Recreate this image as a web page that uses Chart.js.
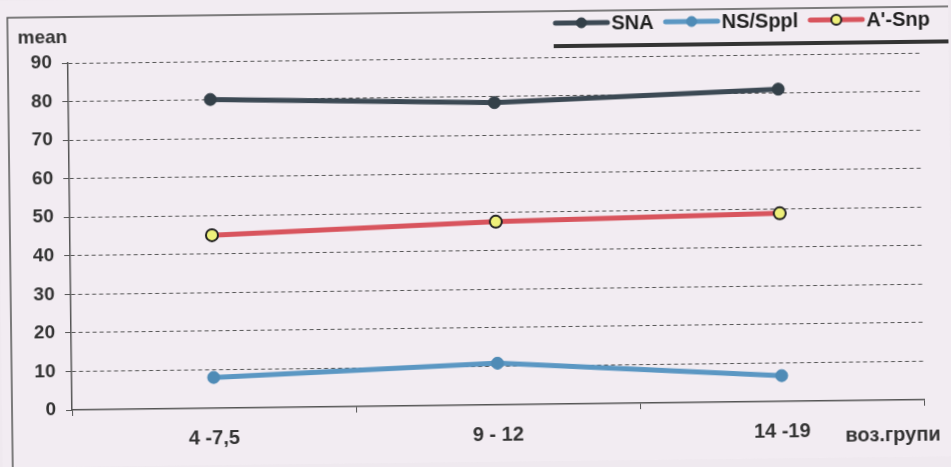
<!DOCTYPE html>
<html>
<head>
<meta charset="utf-8">
<script src="https://cdn.jsdelivr.net/npm/chart.js@4.4.0/dist/chart.umd.min.js"></script>
<style>
  html, body { margin: 0; padding: 0; background: #efe9ef; overflow: hidden; }
  #wrap { width: 951px; height: 467px; }
  /* the scanned original sits slightly skewed on the page */
  canvas { transform: rotate(-0.69deg); transform-origin: 70px 240px; }
</style>
</head>
<body>
<div id="wrap"><canvas id="chart" width="951" height="467"></canvas></div>
<script>
const groups = ["4 -7,5", "9 - 12", "14 -19"];
const sna = [80.1, 78.4, 81];
const nsSppl = [8, 10.8, 6.7];
const aSnp = [44.9, 47.5, 48.8];
const yTicks = [0, 10, 20, 30, 40, 50, 60, 70, 80, 90];

const dark = "#3c4954";
const blue = "#5b97c3";
const red = "#d8545d";
const font = "'Liberation Sans', Arial, sans-serif";

// frame, "mean", axis name and the line-style legend
const decor = {
  id: "decor",
  beforeDraw(chart) {
    const c = chart.ctx;
    c.save();
    c.fillStyle = "#f2ecf2";
    c.fillRect(0, 0, chart.width, chart.height);
    c.strokeStyle = "#555";
    c.lineWidth = 1.5;
    c.strokeRect(10, 17, 1000, 500);
    c.restore();
  },
  afterDraw(chart) {
    const c = chart.ctx;
    c.save();
    c.fillStyle = "#333";
    c.textBaseline = "middle";
    c.font = "bold 19px " + font;
    c.fillText("mean", 20, 38);
    c.font = "bold 20px " + font;
    c.fillText("воз.групи", 843, 445);

    // legend
    let x = 558;
    const y = 29;
    c.font = "bold 20px " + font;
    chart.data.datasets.forEach(ds => {
      c.strokeStyle = ds.borderColor;
      c.lineWidth = 5;
      c.lineCap = "round";
      c.beginPath();
      c.moveTo(x, y);
      c.lineTo(x + 52, y);
      c.stroke();
      c.beginPath();
      c.arc(x + 26, y, 5, 0, Math.PI * 2);
      c.fillStyle = ds.pointBackgroundColor;
      c.fill();
      c.lineWidth = ds.pointBorderWidth;
      c.strokeStyle = ds.pointBorderColor;
      c.stroke();
      c.fillStyle = "#222";
      c.fillText(ds.label, x + 56, y + 1);
      x += 56 + c.measureText(ds.label).width + 12;
    });
    c.fillStyle = "#333";
    c.fillRect(556, 50, 400, 4);
    c.restore();
  }
};

new Chart(document.getElementById("chart"), {
  type: "line",
  data: {
    labels: groups,
    datasets: [
      {
        label: "SNA", data: sna, borderColor: dark, borderWidth: 5,
        pointRadius: 6, pointBackgroundColor: "#344049", pointBorderColor: "#344049", pointBorderWidth: 1
      },
      {
        label: "NS/Sppl", data: nsSppl, borderColor: blue, borderWidth: 5,
        pointRadius: 6, pointBackgroundColor: "#4f8bb6", pointBorderColor: "#4f8bb6", pointBorderWidth: 1
      },
      {
        label: "A'-Snp", data: aSnp, borderColor: red, borderWidth: 5,
        pointRadius: 6, pointBackgroundColor: "#eef07a", pointBorderColor: "#222", pointBorderWidth: 2
      }
    ]
  },
  options: {
    responsive: false,
    animation: false,
    devicePixelRatio: 1,
    layout: { padding: { top: 63, right: 29, left: 0, bottom: 0 } },
    plugins: { legend: { display: false }, tooltip: { enabled: false } },
    elements: { line: { tension: 0 } },
    scales: {
      x: {
        offset: true,
        grid: { offset: true, drawOnChartArea: false, drawTicks: true, tickLength: 6, color: "#555" },
        border: { display: true, color: "#555", width: 1.5 },
        ticks: { color: "#333", padding: 12, font: { size: 20, weight: "bold", family: font } },
        afterFit(axis) { axis.height = 57; }
      },
      y: {
        min: 0, max: 90,
        afterBuildTicks(axis) { axis.ticks = yTicks.map(v => ({ value: v })); },
        grid: {
          color: ctx => ctx.tick && ctx.tick.value === 0 ? "rgba(0,0,0,0)" : "#555",
          lineWidth: 1, tickLength: 6, tickColor: "#555", tickBorderDash: [],
          drawTicks: true
        },
        border: { display: true, color: "#555", width: 1.5, dash: [4, 3] },
        ticks: { color: "#333", padding: 10, font: { size: 19, weight: "bold", family: font } },
        afterFit(axis) { axis.width = 70; }
      }
    }
  },
  plugins: [decor]
});
</script>
</body>
</html>
